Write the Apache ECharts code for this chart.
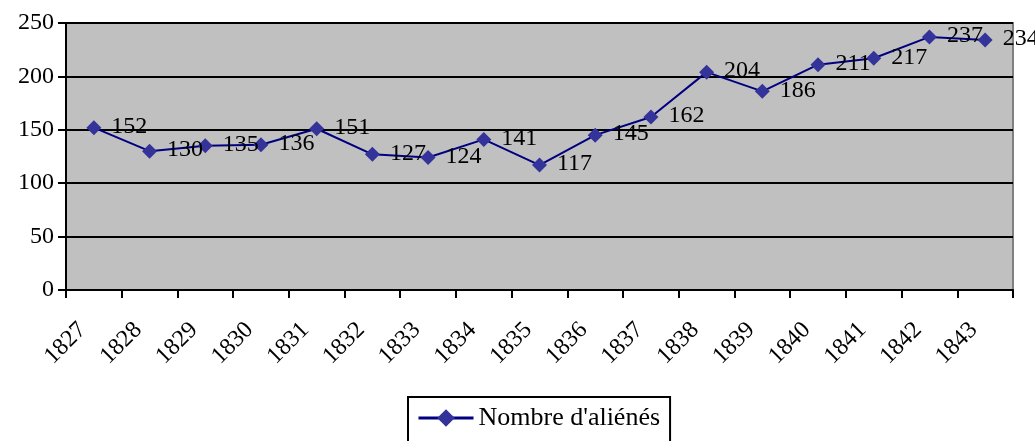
<!DOCTYPE html>
<html><head><meta charset="utf-8">
<script src="https://cdn.jsdelivr.net/npm/echarts@6/dist/echarts.min.js"></script>
<style>html,body{margin:0;padding:0;background:#fff}#c{width:1035px;height:441px}</style>
</head><body><div id="c"></div>
<script>
const years = ['1827','1828','1829','1830','1831','1832','1833','1834','1835','1836','1837','1838','1839','1840','1841','1842','1843'];
const values = [152,130,135,136,151,127,124,141,117,145,162,204,186,211,217,237,234];
const seriesName = "Nombre d'aliénés";
const yTicks = {min:0, max:250, interval:50};

const chart = echarts.init(document.getElementById('c'), null, {renderer:'canvas'});
const font = 'Liberation Serif';
chart.setOption({
  animation:false,
  textStyle:{fontFamily:font},
  grid:{left:66, right:22, top:23, bottom:151, show:true, backgroundColor:'#C0C0C0', borderColor:'#808080', borderWidth:2},
  legend:{
    data:[seriesName], left:408, top:397, orient:'horizontal',
    borderColor:'#000', borderWidth:2, padding:[8,10,12,9],
    itemWidth:55, itemHeight:22, itemGap:6,
    lineStyle:{width:3, color:'#000080'},
    itemStyle:{color:'#333399'},
    textStyle:{fontFamily:font, fontSize:26, color:'#000'}
  },
  xAxis:{
    type:'category', data:years, boundaryGap:true,
    axisLine:{lineStyle:{color:'#000', width:2}},
    axisTick:{show:true, length:8, interval:0, lineStyle:{color:'#000', width:2}},
    axisLabel:{rotate:45, interval:0, margin:25, padding:[0,16,0,0], fontFamily:font, fontSize:24, color:'#000'},
    splitLine:{show:false}
  },
  yAxis:{
    type:'value', min:yTicks.min, max:yTicks.max, interval:yTicks.interval,
    axisLine:{show:true, lineStyle:{color:'#000', width:2}},
    axisTick:{show:true, length:8, lineStyle:{color:'#000', width:2}},
    axisLabel:{margin:12, fontFamily:font, fontSize:24, color:'#000'},
    splitLine:{show:true, lineStyle:{color:'#000', width:2}}
  },
  series:[{
    name:seriesName, type:'line', data:values,
    symbol:'diamond', symbolSize:15,
    lineStyle:{color:'#000080', width:2},
    itemStyle:{color:'#333399', borderWidth:0},
    label:{show:true, position:'right', distance:10, offset:[0,-1], fontFamily:font, fontSize:24, color:'#000'}
  }]
});
</script></body></html>
